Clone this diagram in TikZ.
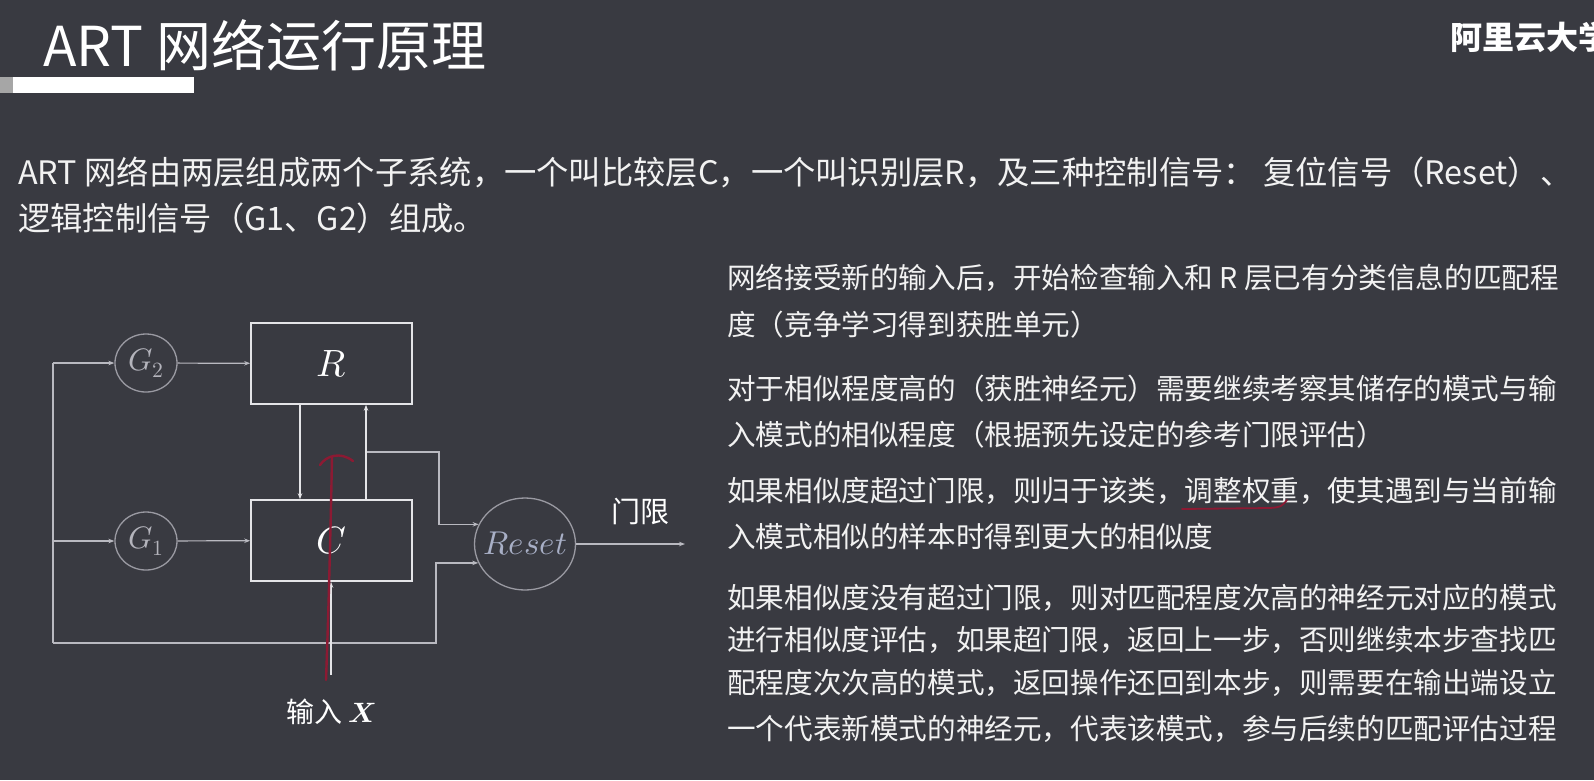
\documentclass[tikz,border=0pt]{standalone}
\usepackage{fontspec}
\usepackage{unicode-math}
\setmainfont{Noto Sans CJK SC}
\setmathfont{Latin Modern Math}
\usetikzlibrary{arrows.meta,shapes.geometric,positioning}

\definecolor{slidebg}{HTML}{393A41}
\definecolor{wirecol}{HTML}{B9B9C0}
\definecolor{boxcol}{HTML}{E4E4E7}
\definecolor{ringcol}{HTML}{9A9AA2}
\definecolor{gatetxt}{HTML}{B4B4BC}
\definecolor{resettxt}{HTML}{A8AFC6}
\definecolor{inkred}{HTML}{8C1A33}
\definecolor{papertxt}{HTML}{F2F2F2}

\tikzset{
    wire/.style={wirecol, line width=1.2pt},
    link/.style={boxcol, line width=2pt},
    tip/.style={-{Stealth[length=6pt,width=4.5pt]}},
    layer/.style={draw=boxcol, line width=1.6pt, minimum width=161pt,
        minimum height=81pt, inner sep=0pt, text=white,
        font=\fontsize{38}{42}\selectfont},
    gate/.style={ellipse, draw=ringcol, line width=1.3pt, inner sep=0pt,
        minimum width=62pt, minimum height=58pt, text=gatetxt,
        font=\fontsize{31}{34}\selectfont},
    para/.style={anchor=west, inner sep=0pt, text=papertxt,
        font=\fontsize{28.6}{34}\selectfont},
    ink/.style={inkred, line width=2.4pt, line cap=round},
}

\begin{document}
\begin{tikzpicture}[x=1pt, y=-1pt]
    % Slide background
    \fill[slidebg] (0,0) rectangle (1594,780);
    \useasboundingbox (0,0) rectangle (1594,780);

    % Title and header bar
    \node[anchor=west, inner sep=0pt, text=white,
        font=\fontsize{55}{60}\selectfont] (title) at (43,45)
        {ART 网络运行原理};
    \fill[gray!70] (0,77) rectangle (13,93);
    \fill[white] (13,77) rectangle (194,93);
    \node[anchor=west, inner sep=0pt, text=white,
        font=\fontsize{32}{36}\bfseries] (brand) at (1450,37)
        {阿里云大学};

    % Introduction
    \node[para, font=\fontsize{32.3}{38}\selectfont] (intro1) at (18,172)
        {ART 网络由两层组成两个子系统，一个叫比较层C，一个叫识别层R，及三种控制信号： 复位信号（Reset）、};
    \node[para, font=\fontsize{32.3}{38}\selectfont] (intro2) at (18,218)
        {逻辑控制信号（G1、G2）组成。};

    % Notes on the right
    \foreach \y/\txt [count=\i] in {
        278/{网络接受新的输入后，开始检查输入和 R 层已有分类信息的匹配程},
        325/{度（竞争学习得到获胜单元）},
        389/{对于相似程度高的（获胜神经元）需要继续考察其储存的模式与输},
        435/{入模式的相似程度（根据预先设定的参考门限评估）},
        491/{如果相似度超过门限，则归于该类，调整权重，使其遇到与当前输},
        537/{入模式相似的样本时得到更大的相似度},
        598/{如果相似度没有超过门限，则对匹配程度次高的神经元对应的模式},
        640/{进行相似度评估，如果超门限，返回上一步，否则继续本步查找匹},
        683/{配程度次次高的模式，返回操作还回到本步，则需要在输出端设立},
        729/{一个代表新模式的神经元，代表该模式，参与后续的匹配评估过程}}{
        \node[para] (note\i) at (727,\y) {\txt};
    }

    % Layers and gates
    \node[layer] (R) at (331.5,363.5) {$R$};
    \node[layer] (C) at (331.5,540.5) {$C$};
    \node[gate] (G2) at (146,363) {$G_2$};
    \node[gate] (G1) at (146,541) {$G_1$};
    \node[gate, minimum width=101pt, minimum height=92pt, text=resettxt,
        font=\fontsize{33}{36}\selectfont] (reset) at (525,544)
        {\makebox[20pt]{$Reset$}};

    % Free ends
    \coordinate (busTop) at (53,363);
    \coordinate (busBot) at (53,643);
    \coordinate (loopLow) at (436,643);
    \coordinate (tapC) at (366,452);
    \coordinate (tapBend) at (439,452);
    \coordinate (inX) at (331,675);
    \coordinate (thres) at (685,544);

    % Gain control wiring
    \draw[wire] (busTop) -- (busBot);
    \draw[wire, tip] (busTop) -- (G2);
    \draw[wire, tip] (busTop |- G1) -- (G1);
    \draw[wire, tip] (G2) -- (R);
    \draw[wire, tip] (G1) -- (C);
    \draw[wire, tip] (busBot) -- (loopLow) |- (reset.202);
    \draw[wire, tip] (tapC) -- (tapBend) |- (reset.157);
    \draw[wire, tip] (reset) -- (thres);
    \node[text=white, font=\fontsize{29}{32}\selectfont] (thresLbl)
        at (640,511) {门限};

    % Between the layers
    \draw[link, tip] ([xshift=-31.5pt]R.south) -- ([xshift=-31.5pt]C.north);
    \draw[link, tip] ([xshift=34.5pt]C.north) -- ([xshift=34.5pt]R.south);
    \draw[link, tip] (inX) -- (C.south -| inX);
    \node[text=white, font=\fontsize{28}{32}\selectfont] (inLbl)
        at (331,712) {输入 $\symbfit{X}$};

    % Pen marks
    \draw[ink] (326,680) .. controls (329,600) and (331,510) .. (332,457);
    \draw[ink] (320,465) .. controls (326,456) and (340,451) .. (353,461);
    \draw[inkred, line width=1.8pt, line cap=round]
        (1182,509) -- (1270,508) .. controls (1281,507) .. (1287,500);
\end{tikzpicture}
\end{document}
